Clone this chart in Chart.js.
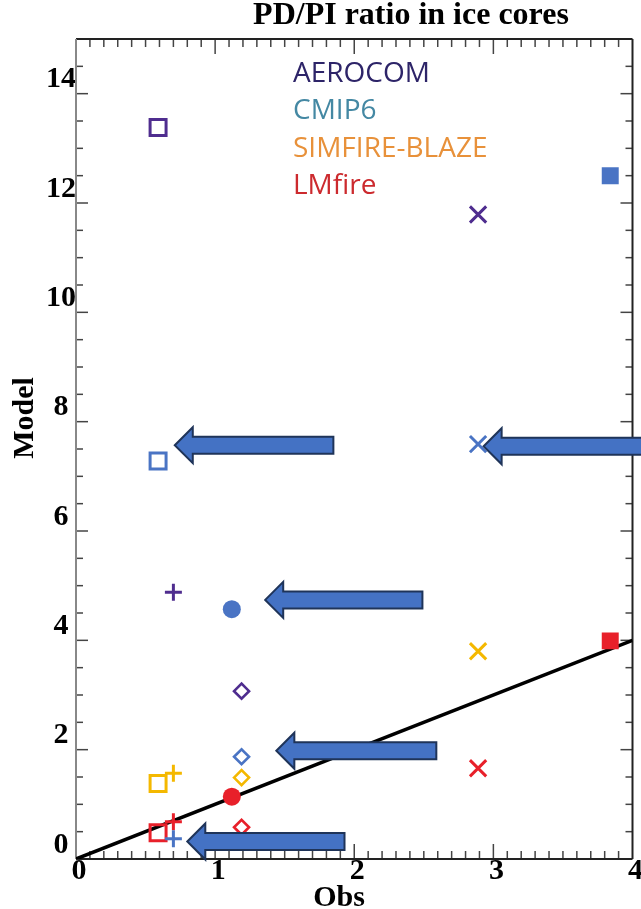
<!DOCTYPE html>
<html>
<head>
<meta charset="utf-8">
<script src="https://cdn.jsdelivr.net/npm/chart.js@4.4.0/dist/chart.umd.min.js"></script>
<style>
  body { margin: 0; background: #fff; }
  canvas { display: block; }
</style>
</head>
<body>
<canvas id="pdpi" width="641" height="909"></canvas>
<script>
// obs value of each ice core site (one marker shape per site)
const sitesObs = [0.59, 0.70, 1.12, 1.19, 2.89, 3.84];

// model value at each site, null where the model has no point
const models = ['AEROCOM', 'CMIP6', 'SIMFIRE-BLAZE', 'LMfire'];
const aerocom = [13.38, 4.88, null, 3.07, 11.79, null];
const cmip6 = [7.28, 0.37, 4.57, 1.87, 7.59, 12.50];
const simfire = [1.38, 1.57, null, 1.49, 3.80, null];
const lmfire = [0.48, 0.68, 1.14, 0.58, 1.66, 3.99];

// 1:1 line
const oneToOneX = [0, 4];
const oneToOneY = [0, 4];

// arrows pointing at the CMIP6 points
const arrowTipX = [0.71, 2.93, 1.36, 1.44, 0.80];
const arrowTipY = [7.57, 7.55, 4.74, 1.98, 0.32];
const arrowTailX = [1.85, 4.40, 2.49, 2.59, 1.93];

const yTickLabels = [0, 2, 4, 6, 8, 10, 12, 14];
const xTickLabels = [0, 1, 2, 3, 4];

const markerColors = ['#4f2d8f', '#4a74c4', '#f4b800', '#e8202a'];
const textColors = ['#2d2468', '#4488a3', '#e8913a', '#cc2a2e'];
const siteStyles = ['rect', 'cross', 'circle', 'rectRot', 'crossRot', 'rect'];
const siteRadius = [11.3, 8.5, 9, 7.5, 11.5, 12];
const siteBorder = [3, 3, 0, 2.6, 3, 0];
const siteFilled = [false, false, true, false, false, true];

const serif = '"Liberation Serif", "Times New Roman", serif';

function sitePoints(values) {
  let pts = [];
  for (let i = 0; i < values.length; i++) {
    if (values[i] !== null) pts.push({x: sitesObs[i], y: values[i], site: i});
  }
  return pts;
}

function modelDataset(values, k) {
  return {
    type: 'scatter',
    label: models[k],
    data: sitePoints(values),
    order: 1,
    pointStyle: c => siteStyles[c.raw.site],
    pointRadius: c => siteRadius[c.raw.site],
    pointBorderWidth: c => siteBorder[c.raw.site],
    pointBorderColor: markerColors[k],
    pointBackgroundColor: c => siteFilled[c.raw.site] ? markerColors[k] : 'rgba(0,0,0,0)'
  };
}

function isNear(v, list) {
  return list.some(t => Math.abs(v - t) < 1e-6);
}

function line(ctx, x1, y1, x2, y2) {
  ctx.beginPath();
  ctx.moveTo(x1, y1);
  ctx.lineTo(x2, y2);
  ctx.stroke();
}

// inward ticks on all four sides plus the box
const framePlugin = {
  id: 'frame',
  beforeDatasetsDraw(chart) {
    const {ctx, chartArea: a, scales: {x, y}} = chart;
    ctx.save();
    ctx.strokeStyle = '#444';
    ctx.lineWidth = 1.5;
    x.ticks.forEach(t => {
      if (t.value <= 0 || t.value >= 4) return;
      const px = x.getPixelForValue(t.value);
      const len = isNear(t.value, xTickLabels) ? 15 : 8;
      line(ctx, px, a.bottom, px, a.bottom - len);
      line(ctx, px, a.top, px, a.top + len);
    });
    y.ticks.forEach(t => {
      if (t.value <= 0 || t.value >= 15) return;
      const py = y.getPixelForValue(t.value);
      const len = isNear(t.value, yTickLabels) ? 12 : 7;
      line(ctx, a.left, py, a.left + len, py);
      line(ctx, a.right, py, a.right - len, py);
    });
    ctx.lineWidth = 2;
    ctx.strokeStyle = '#222';
    line(ctx, a.left, a.bottom, a.right, a.bottom);
    line(ctx, a.left, a.top, a.right, a.top);
    line(ctx, a.right, a.top, a.right, a.bottom);
    ctx.strokeStyle = '#888';
    line(ctx, a.left, a.top, a.left, a.bottom);
    ctx.restore();
  }
};

const arrowPlugin = {
  id: 'arrows',
  afterDatasetsDraw(chart) {
    const {ctx, scales: {x, y}} = chart;
    ctx.save();
    ctx.fillStyle = '#4472c4';
    ctx.strokeStyle = '#1f3459';
    ctx.lineWidth = 2;
    ctx.lineJoin = 'miter';
    for (let i = 0; i < arrowTipX.length; i++) {
      const tx = x.getPixelForValue(arrowTipX[i]);
      const ty = y.getPixelForValue(arrowTipY[i]);
      const ex = x.getPixelForValue(arrowTailX[i]);
      const hx = tx + 18;
      ctx.beginPath();
      ctx.moveTo(tx, ty);
      ctx.lineTo(hx, ty - 18);
      ctx.lineTo(hx, ty - 8.5);
      ctx.lineTo(ex, ty - 8.5);
      ctx.lineTo(ex, ty + 8.5);
      ctx.lineTo(hx, ty + 8.5);
      ctx.lineTo(hx, ty + 18);
      ctx.closePath();
      ctx.fill();
      ctx.stroke();
    }
    ctx.restore();
  }
};

const textPlugin = {
  id: 'texts',
  afterDraw(chart) {
    const {ctx} = chart;
    ctx.save();
    ctx.fillStyle = '#000';
    ctx.textAlign = 'center';
    ctx.textBaseline = 'alphabetic';
    ctx.font = 'bold 32px ' + serif;
    ctx.fillText('PD/PI ratio in ice cores', 411, 24);
    ctx.font = 'bold 30px ' + serif;
    ctx.fillText('Obs', 339, 906);
    ctx.translate(33, 418);
    ctx.rotate(-Math.PI / 2);
    ctx.fillText('Model', 0, 0);
    ctx.restore();

    ctx.save();
    ctx.font = '28px "Open Sans", sans-serif';
    ctx.textAlign = 'left';
    ctx.textBaseline = 'alphabetic';
    for (let k = 0; k < models.length; k++) {
      ctx.fillStyle = textColors[k];
      ctx.fillText(models[k], 293, 82 + k * 37.3);
    }
    ctx.restore();
  }
};

const ctx = document.getElementById('pdpi');

new Chart(ctx, {
  data: {
    datasets: [
      {
        type: 'line',
        label: '1:1',
        data: oneToOneX.map((v, i) => ({x: v, y: oneToOneY[i]})),
        borderColor: '#000',
        borderWidth: 3.5,
        pointRadius: 0,
        order: 5
      },
      modelDataset(aerocom, 0),
      modelDataset(cmip6, 1),
      modelDataset(simfire, 2),
      modelDataset(lmfire, 3)
    ]
  },
  options: {
    responsive: false,
    animation: false,
    devicePixelRatio: 1,
    events: [],
    layout: {autoPadding: false, padding: {top: 39, right: 8.5, left: 0, bottom: 0}},
    plugins: {legend: {display: false}, title: {display: false}, tooltip: {enabled: false}},
    scales: {
      x: {
        type: 'linear',
        min: 0,
        max: 4,
        grid: {display: false, drawTicks: false},
        border: {display: false},
        afterFit: s => { s.height = 50; s.paddingLeft = 0; s.paddingRight = 0; },
        ticks: {
          stepSize: 0.1,
          autoSkip: false,
          maxRotation: 0,
          padding: -6,
          labelOffset: 3,
          color: '#000',
          font: {family: serif, size: 30, weight: 'bold'},
          callback: v => isNear(v, xTickLabels) ? Math.round(v) : ''
        }
      },
      y: {
        type: 'linear',
        min: 0,
        max: 15,
        grid: {display: false, drawTicks: false},
        border: {display: false},
        afterFit: s => { s.width = 76; s.paddingTop = 0; s.paddingBottom = 0; },
        ticks: {
          stepSize: 0.5,
          autoSkip: false,
          padding: 0,
          crossAlign: 'center',
          labelOffset: -14,
          color: '#000',
          font: {family: serif, size: 30, weight: 'bold'},
          callback: v => isNear(v, yTickLabels) ? Math.round(v) : ''
        }
      }
    }
  },
  plugins: [framePlugin, arrowPlugin, textPlugin]
});
</script>
</body>
</html>
